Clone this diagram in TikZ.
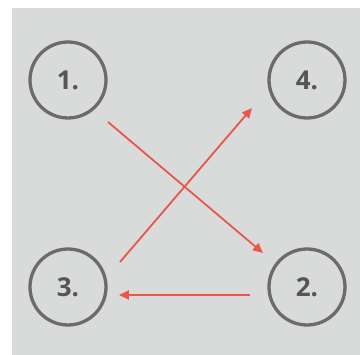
\documentclass[tikz,border=0pt]{standalone}
\usepackage{fontspec}
\setmainfont{Open Sans}
\usetikzlibrary{arrows.meta}
\definecolor{bg}{HTML}{D9DADA}
\definecolor{ring}{HTML}{6B6B6B}
\definecolor{txt}{HTML}{555555}
\definecolor{arr}{HTML}{E8574A}
\tikzset{
  numcirc/.style={circle, draw=ring, line width=3.3pt, minimum size=76pt, inner sep=0pt,
    text=txt, font=\fontsize{26}{28}\selectfont\bfseries},
  redarrow/.style={draw=arr, line width=1.8pt, -{Triangle[length=10pt,width=9pt]}}
}
\begin{document}
\begin{tikzpicture}[x=1pt,y=-1pt]
\useasboundingbox (0,0) rectangle (360,355);
\fill[white] (0,0) rectangle (360,355);
\fill[bg] (12,8) rectangle (360,355);
\node[numcirc] (n1) at (68,80) {1.};
\node[numcirc] (n4) at (307,80) {4.};
\node[numcirc] (n3) at (68,287) {3.};
\node[numcirc] (n2) at (307,287) {2.};
\coordinate (a1s) at (108,122);
\coordinate (a1e) at (263,253);
\coordinate (a2s) at (120,262);
\coordinate (a2e) at (252,108);
\coordinate (a3s) at (250,295);
\coordinate (a3e) at (119,295);
\draw[redarrow] (a1s) -- (a1e);
\draw[redarrow] (a2s) -- (a2e);
\draw[redarrow] (a3s) -- (a3e);
\end{tikzpicture}
\end{document}
